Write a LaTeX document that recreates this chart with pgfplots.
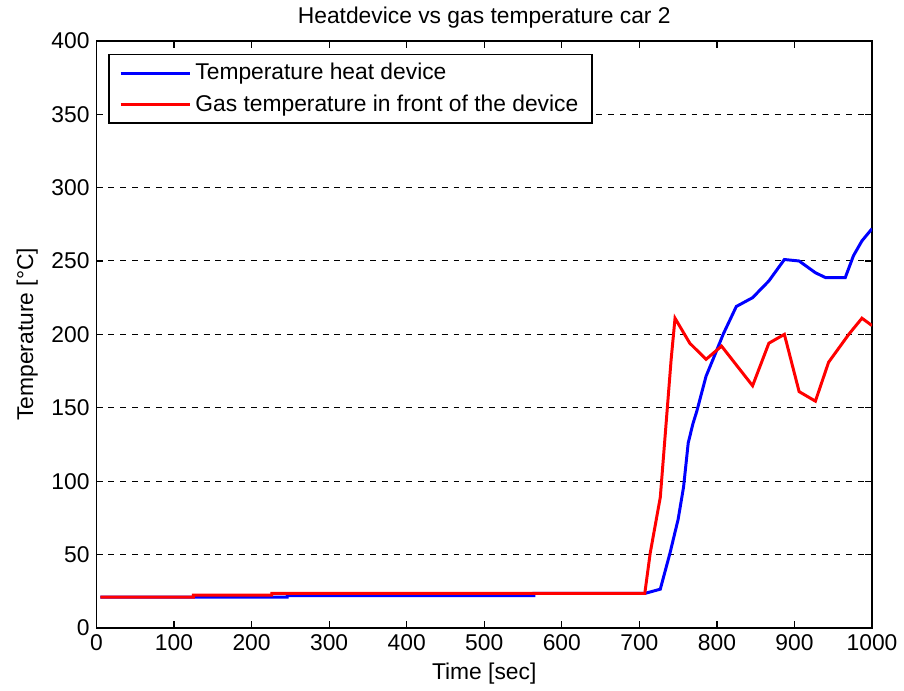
\documentclass[border=0pt]{standalone}
\usepackage{fontspec}
\setmainfont{Liberation Sans}
\usepackage{pgfplots}
\pgfplotsset{compat=1.18}
\begin{document}
\begin{tikzpicture}
\begin{axis}[
  scale only axis,
  width=391pt, height=296pt,
  xmin=0, xmax=1000, ymin=0, ymax=400,
  xtick={0,100,...,1000}, ytick={0,50,...,400},
  tick align=inside, tick pos=both,
  major tick length=3.5pt,
  tick style={black, line width=0.6pt},
  axis line style={black, line width=0.75pt},
  ymajorgrids,
  major grid style={black, dashed, line width=0.5pt},
  /pgf/number format/assume math mode=true,
  /pgf/number format/1000 sep={},
  every tick label/.append style={font=\fontsize{11.5}{13}\selectfont},
  label style={font=\fontsize{11.5}{13}\selectfont},
  xlabel style={yshift=1pt},
  title style={font=\fontsize{11.5}{13}\selectfont, yshift=-3pt},
  title={Heatdevice vs gas temperature car 2},
  xlabel={Time [sec]},
  ylabel={Temperature [°C]},
  legend cell align=left,
  legend style={at={(axis description cs:0,1)}, anchor=north west, xshift=6pt, yshift=-6.5pt,
    draw=black, line width=0.75pt, font=\fontsize{11.5}{13}\selectfont,
    inner xsep=5pt, inner ysep=2.5pt, row sep=2pt},
  legend image code/.code={\draw[#1, line width=1.5pt] (0pt,0pt) -- (35pt,0pt);},
]
\addplot[blue, line width=1.5pt] coordinates {
(5,21) (125,21) (246,21) (246,22) (564,22) (564,23.5) (707,23.5) (727,26.4) (739.5,51) (750,74) (757,96) (763,126) (769,139) (774,147.5) (786,171.5) (798.5,187.5) (808,200) (825,219) (846,225) (867,236.4) (887,251) (906,250) (927,242) (940,238.7) (965.5,238.7) (976,253.5) (987,263.7) (1000,272)
};
\addlegendentry{Temperature heat device}
\addplot[red, line width=1.5pt] coordinates {
(5,21) (125,21) (125,22.3) (226,22.3) (226,23.5) (707,23.5) (714,51) (727,89) (741,183) (746,211) (765,194) (786,183) (806,192) (846,165) (867,194) (887,200) (906,161) (927,154.5) (944,181) (970,200) (987,211) (1000,206)
};
\addlegendentry{Gas temperature in front of the device}
\end{axis}
\path (current bounding box.west) ++(-5pt,0) coordinate (padL);
\end{tikzpicture}
\end{document}
